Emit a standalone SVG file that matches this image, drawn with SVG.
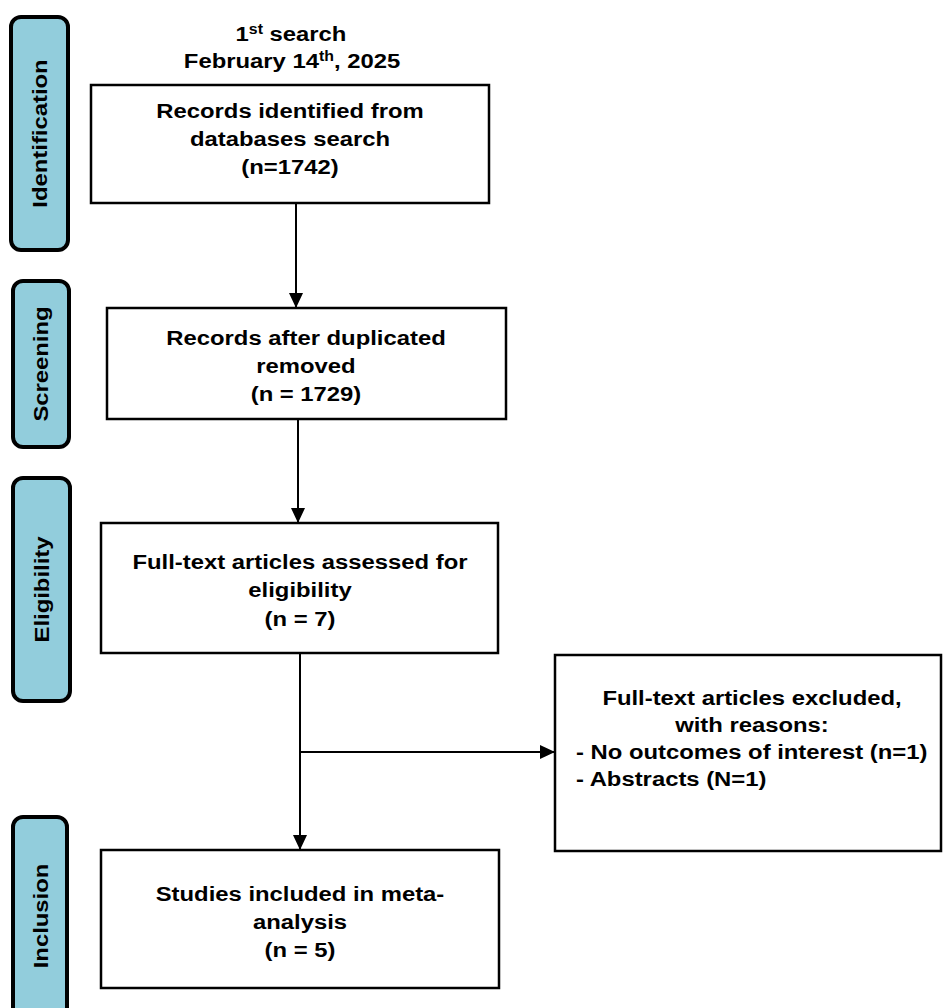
<svg xmlns="http://www.w3.org/2000/svg" width="944" height="1008" viewBox="0 0 944 1008">
<style>
  text { font-family: "Liberation Sans", Arial, sans-serif; font-weight: bold; font-size: 21px; fill: #000; }
  .c { text-anchor: middle; }
  .box { fill: #fff; stroke: #000; stroke-width: 2.5; }
  .pill { fill: #92CDDC; stroke: #000; stroke-width: 4; }
  .conn { fill: none; stroke: #000; stroke-width: 2; }
</style>
<defs>
  <marker id="ah" markerWidth="15" markerHeight="14" refX="15" refY="7" orient="auto" markerUnits="userSpaceOnUse">
    <path d="M0,0 L15,7 L0,14 Z" fill="#000"/>
  </marker>
</defs>
<rect width="944" height="1008" fill="#fff"/>

<g id="phase-identification">
  <rect class="pill" x="11" y="17" width="57" height="233" rx="10"/>
  <text class="c" transform="translate(46.5,133.5) rotate(-90) scale(1.135,1)">Identification</text>
</g>
<g id="phase-screening">
  <rect class="pill" x="13" y="281" width="56" height="166" rx="10"/>
  <text class="c" transform="translate(48,364) rotate(-90) scale(1.135,1)">Screening</text>
</g>
<g id="phase-eligibility">
  <rect class="pill" x="13" y="478" width="57" height="223" rx="10"/>
  <text class="c" transform="translate(48.5,589.5) rotate(-90) scale(1.135,1)">Eligibility</text>
</g>
<g id="phase-inclusion">
  <rect class="pill" x="13" y="817" width="54" height="200" rx="10"/>
  <text class="c" transform="translate(47.5,916) rotate(-90) scale(1.135,1)">Inclusion</text>
</g>

<g id="title">
  <text class="c" transform="translate(291,41) scale(1.135,1)">1<tspan font-size="14" dy="-7.5">st</tspan><tspan dy="7.5"> search</tspan></text>
  <text class="c" transform="translate(292,68) scale(1.135,1)">February 14<tspan font-size="14" dy="-7.5">th</tspan><tspan dy="7.5">, 2025</tspan></text>
</g>

<g id="records-identified">
  <rect class="box" x="91" y="85" width="398" height="118"/>
  <text class="c" transform="translate(290,118) scale(1.135,1)">Records identified from</text>
  <text class="c" transform="translate(290,146) scale(1.135,1)">databases search</text>
  <text class="c" transform="translate(290,174) scale(1.135,1)">(n=1742)</text>
</g>

<g id="records-deduplicated">
  <rect class="box" x="107" y="308" width="399" height="111"/>
  <text class="c" transform="translate(306,345) scale(1.135,1)">Records after duplicated</text>
  <text class="c" transform="translate(306,373) scale(1.135,1)">removed</text>
  <text class="c" transform="translate(306,401) scale(1.135,1)">(n = 1729)</text>
</g>

<g id="fulltext-assessed">
  <rect class="box" x="101" y="523" width="397" height="130"/>
  <text class="c" transform="translate(300,569) scale(1.135,1)">Full-text articles assessed for</text>
  <text class="c" transform="translate(300,597) scale(1.135,1)">eligibility</text>
  <text class="c" transform="translate(300,626) scale(1.135,1)">(n = 7)</text>
</g>

<g id="fulltext-excluded">
  <rect class="box" x="555" y="655" width="386" height="196"/>
  <text class="c" transform="translate(752,705) scale(1.135,1)">Full-text articles excluded,</text>
  <text class="c" transform="translate(752,732) scale(1.135,1)">with reasons:</text>
  <text transform="translate(576,759) scale(1.135,1)">- No outcomes of interest (n=1)</text>
  <text transform="translate(576,786) scale(1.135,1)">- Abstracts (N=1)</text>
</g>

<g id="studies-included">
  <rect class="box" x="101" y="850" width="398" height="138"/>
  <text class="c" transform="translate(300,901) scale(1.135,1)">Studies included in meta-</text>
  <text class="c" transform="translate(300,929) scale(1.135,1)">analysis</text>
  <text class="c" transform="translate(300,957) scale(1.135,1)">(n = 5)</text>
</g>

<g id="connectors">
  <path class="conn" d="M296,203 V308" marker-end="url(#ah)"/>
  <path class="conn" d="M298,419 V523" marker-end="url(#ah)"/>
  <path class="conn" d="M300,653 V850" marker-end="url(#ah)"/>
  <path class="conn" d="M300,752 H555" marker-end="url(#ah)"/>
</g>
</svg>
